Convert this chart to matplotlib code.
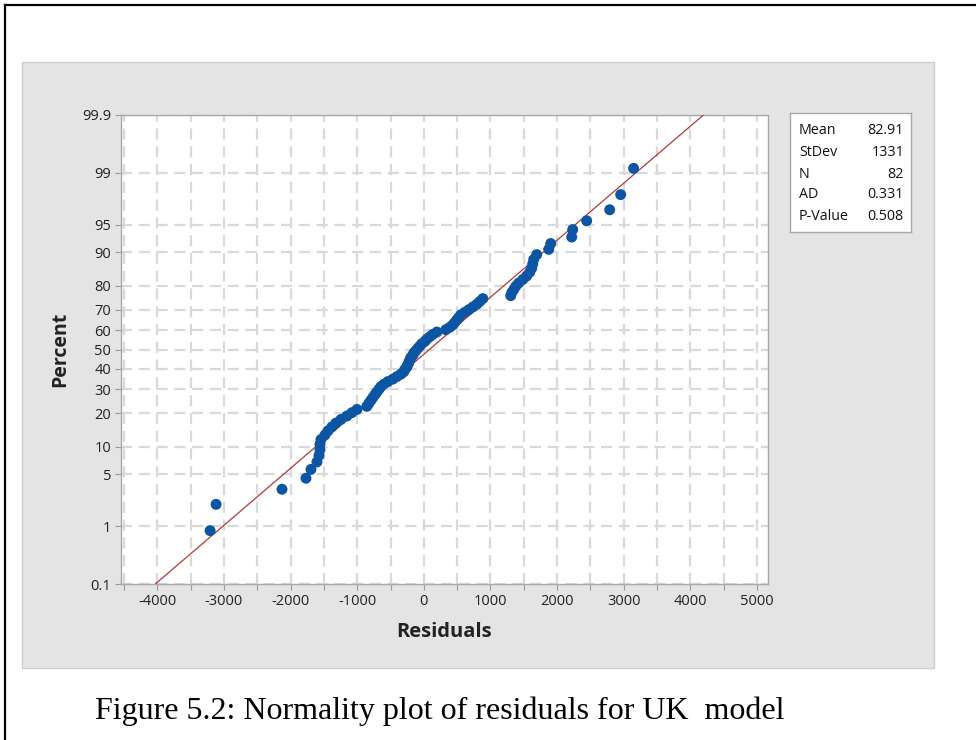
import numpy as np
import matplotlib
matplotlib.use("Agg")
import matplotlib.pyplot as plt
from matplotlib.patches import Rectangle
from matplotlib.lines import Line2D
from matplotlib.ticker import MultipleLocator
from statistics import NormalDist

plt.rcParams['font.family'] = ['Open Sans', 'DejaVu Sans']

# Residuals of the UK model (sorted)
residuals = [
    -3208, -3118, -2129, -1769, -1694, -1604, -1574, -1559, -1559, -1544,
    -1484, -1439, -1379, -1319, -1244, -1154, -1079, -1004, -855, -825,
    -795, -765, -735, -705, -675, -645, -600, -540, -465, -405,
    -345, -300, -285, -255, -240, -225, -210, -195, -165, -150,
    -120, -90, -60, -30, 15, 45, 90, 135, 195, 330,
    390, 435, 465, 495, 525, 555, 615, 675, 735, 795,
    840, 885, 1304, 1319, 1349, 1379, 1424, 1484, 1544, 1589,
    1619, 1634, 1649, 1694, 1874, 1904, 2219, 2234, 2444, 2789,
    2954, 3148,
]

# Summary statistics of the fitted normal distribution
stat_names = ["Mean", "StDev", "N", "AD", "P-Value"]
stat_values = ["82.91", "1331", "82", "0.331", "0.508"]
fit_mean = 82.91
fit_sd = 1331.0

pct_ticks = [0.1, 1, 5, 10, 20, 30, 40, 50, 60, 70, 80, 90, 95, 99, 99.9]
pct_labels = ["0.1", "1", "5", "10", "20", "30", "40", "50", "60", "70",
              "80", "90", "95", "99", "99.9"]
x_ticks = [-4000, -3000, -2000, -1000, 0, 1000, 2000, 3000, 4000, 5000]

nd = NormalDist()
W, H = 976, 740
fig = plt.figure(figsize=(W / 100, H / 100), dpi=100)
fig.patch.set_facecolor("white")

def fx(px):
    return px / W

def fy(py):
    return 1 - py / H

# page frame lines
fig.add_artist(Line2D([fx(5), fx(5)], [fy(5), 0], color="black", lw=1.6,
                      transform=fig.transFigure))
fig.add_artist(Line2D([fx(5), 1], [fy(5), fy(5)], color="black", lw=1.6,
                      transform=fig.transFigure))

# grey graph panel
fig.add_artist(Rectangle((fx(22), fy(668)), fx(934) - fx(22), fy(62) - fy(668),
                         transform=fig.transFigure, facecolor="#e4e4e4",
                         edgecolor="#cccccc", lw=1.0, zorder=0))

ax = fig.add_axes([fx(121), fy(584), fx(768) - fx(121), fy(115) - fy(584)])
ax.set_facecolor("white")

zmin = nd.inv_cdf(0.001)
zmax = nd.inv_cdf(0.999)

# plotting positions (median ranks)
r = np.sort(np.array(residuals, dtype=float))
n = len(r)
p = (np.arange(1, n + 1) - 0.3) / (n + 0.4)
z = np.array([nd.inv_cdf(v) for v in p])

# fitted line
zl = np.array([zmin, zmax])
ax.plot(fit_mean + zl * fit_sd, zl, color="#b03a3a", lw=0.9, zorder=3)

ax.scatter(r, z, s=62, color="#0b55a3", edgecolors="none", zorder=4)

ax.set_xlim(-4545, 5165)
ax.set_ylim(zmin, zmax)

ax.set_yticks([nd.inv_cdf(v / 100) for v in pct_ticks])
ax.set_yticklabels(pct_labels)
ax.set_xticks(x_ticks)
ax.set_xticklabels([str(v) for v in x_ticks])
ax.xaxis.set_minor_locator(MultipleLocator(500))

ax.grid(True, which="both", axis="x", color="#d9d9d9", lw=1.6,
        linestyle=(0, (5, 3)), zorder=1)
ax.grid(True, which="major", axis="y", color="#d9d9d9", lw=1.6,
        linestyle=(0, (5, 3)), zorder=1)
ax.set_axisbelow(True)

ax.tick_params(axis="both", which="both", direction="out", length=4,
               width=0.8, color="#9a9a9a", labelsize=10.5, labelcolor="#222222")
ax.tick_params(axis="x", which="major", pad=3)
ax.tick_params(axis="y", which="major", pad=3)
for s in ax.spines.values():
    s.set_color("#a8a8a8")
    s.set_linewidth(1.0)

fig.text(fx(60), fy(349), "Percent", rotation=90, ha="center", va="center",
         fontsize=14, fontweight="bold", color="#222222")
fig.text(fx(444), fy(632), "Residuals", ha="center", va="center",
         fontsize=14.5, fontweight="bold", color="#222222")

# statistics box
bx = fig.add_axes([fx(790), fy(232), fx(911) - fx(790), fy(113) - fy(232)])
bx.set_facecolor("white")
bx.set_xticks([])
bx.set_yticks([])
for s in bx.spines.values():
    s.set_color("#a8a8a8")
    s.set_linewidth(1.0)
row_y = [131, 153, 174, 195, 217]
for name, val, yy in zip(stat_names, stat_values, row_y):
    fig.text(fx(799), fy(yy), name, ha="left", va="center", fontsize=10.3,
             color="#111111")
    fig.text(fx(904), fy(yy), val, ha="right", va="center", fontsize=10.3,
             color="#111111")

fig.text(fx(95), fy(711), "Figure 5.2: Normality plot of residuals for UK  model",
         ha="left", va="center", fontsize=23, family="Liberation Serif",
         color="black")

fig.savefig("out.png", dpi=100)
